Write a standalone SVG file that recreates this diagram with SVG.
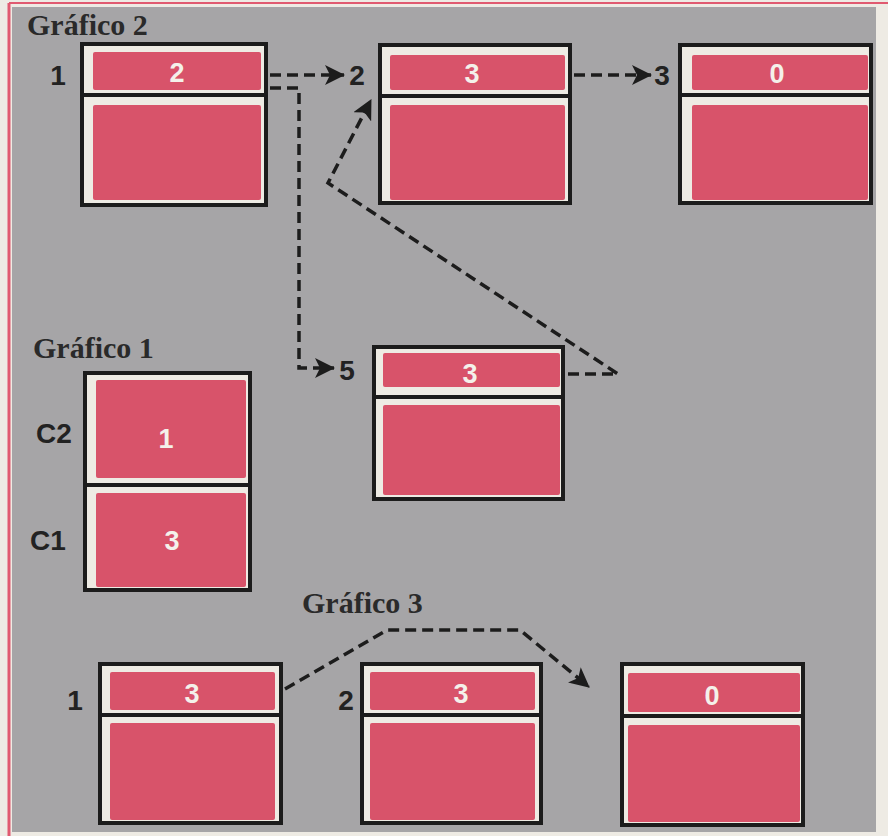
<svg xmlns="http://www.w3.org/2000/svg" width="888" height="836" viewBox="0 0 888 836">
<defs>
<style>
.frame{fill:#eeebe4;stroke:#1c1c1c;stroke-width:4}
.pk{fill:#d8536a}
.div{stroke:#1c1c1c;stroke-width:4}
.val{font-family:"Liberation Sans",Arial,sans-serif;font-weight:bold;font-size:27px;fill:#f4f1ea;text-anchor:middle}
.lbl{font-family:"Liberation Sans",Arial,sans-serif;font-weight:bold;font-size:28px;fill:#222;text-anchor:middle}
.ttl{font-family:"Liberation Serif","Times New Roman",serif;font-weight:bold;font-size:30px;fill:#2a2a2a}
.con{fill:none;stroke:#1c1c1c;stroke-width:3.5;stroke-dasharray:11 6}
</style>
<marker id="ah" viewBox="0 0 20 20" markerWidth="20" markerHeight="20" refX="19" refY="10" orient="auto" markerUnits="userSpaceOnUse">
<path d="M0,0 L20,10 L0,20 L5,10 z" fill="#1c1c1c"/>
</marker>
</defs>
<rect x="0" y="0" width="888" height="836" fill="#eeebe4"/>
<rect x="12" y="7" width="864" height="825" fill="#a6a5a7"/>
<line x1="9" y1="3" x2="9" y2="836" stroke="#e05a70" stroke-width="3"/>
<line x1="9" y1="3" x2="888" y2="3" stroke="#e05a70" stroke-width="2"/>

<text class="ttl" x="27" y="35">Gráfico 2</text>
<text class="ttl" x="33" y="358">Gráfico 1</text>
<text class="ttl" x="302" y="613">Gráfico 3</text>

<g id="g2-n1">
<rect class="frame" x="82" y="44" width="184" height="161"/>
<rect class="pk" x="93" y="52" width="168" height="38" rx="2"/>
<rect class="pk" x="93" y="105" width="168" height="95" rx="2"/>
<line class="div" x1="80" y1="95" x2="268" y2="95"/>
<text class="val" x="177" y="82">2</text>
<text class="lbl" x="58" y="85">1</text>
</g>
<g id="g2-n2">
<rect class="frame" x="380" y="45" width="190" height="158"/>
<rect class="pk" x="390" y="55" width="175" height="35" rx="2"/>
<rect class="pk" x="390" y="105" width="175" height="95" rx="2"/>
<line class="div" x1="378" y1="96" x2="572" y2="96"/>
<text class="val" x="472" y="83">3</text>
<text class="lbl" x="357" y="85">2</text>
</g>
<g id="g2-n3">
<rect class="frame" x="680" y="45" width="191" height="158"/>
<rect class="pk" x="692" y="55" width="176" height="35" rx="2"/>
<rect class="pk" x="692" y="105" width="176" height="95" rx="2"/>
<line class="div" x1="678" y1="95" x2="873" y2="95"/>
<text class="val" x="777" y="83">0</text>
<text class="lbl" x="662" y="85">3</text>
</g>
<g id="g2-n5">
<rect class="frame" x="374" y="347" width="189" height="152"/>
<rect class="pk" x="383" y="353" width="177" height="34" rx="2"/>
<rect class="pk" x="383" y="405" width="177" height="90" rx="2"/>
<line class="div" x1="372" y1="397" x2="565" y2="397"/>
<text class="val" x="470" y="383">3</text>
<text class="lbl" x="347" y="380">5</text>
</g>
<g id="g1">
<rect class="frame" x="85" y="373" width="165" height="217"/>
<rect class="pk" x="96" y="380" width="150" height="98" rx="2"/>
<rect class="pk" x="96" y="493" width="150" height="94" rx="2"/>
<line class="div" x1="83" y1="485" x2="252" y2="485"/>
<text class="val" x="166" y="448">1</text>
<text class="val" x="172" y="550">3</text>
<text class="lbl" x="54" y="443">C2</text>
<text class="lbl" x="48" y="550">C1</text>
</g>
<g id="g3-n1">
<rect class="frame" x="100" y="664" width="181" height="159"/>
<rect class="pk" x="110" y="672" width="165" height="38" rx="2"/>
<rect class="pk" x="110" y="723" width="165" height="97" rx="2"/>
<line class="div" x1="98" y1="715" x2="283" y2="715"/>
<text class="val" x="192" y="703">3</text>
<text class="lbl" x="75" y="710">1</text>
</g>
<g id="g3-n2">
<rect class="frame" x="362" y="664" width="179" height="159"/>
<rect class="pk" x="370" y="672" width="165" height="38" rx="2"/>
<rect class="pk" x="370" y="723" width="165" height="97" rx="2"/>
<line class="div" x1="360" y1="715" x2="543" y2="715"/>
<text class="val" x="461" y="703">3</text>
<text class="lbl" x="346" y="710">2</text>
</g>
<g id="g3-n3">
<rect class="frame" x="622" y="664" width="181" height="161"/>
<rect class="pk" x="628" y="673" width="172" height="39" rx="2"/>
<rect class="pk" x="628" y="725" width="172" height="97" rx="2"/>
<line class="div" x1="620" y1="716" x2="805" y2="716"/>
<text class="val" x="712" y="705">0</text>
</g>

<g id="connectors">
<path class="con" d="M270,75 H344" marker-end="url(#ah)"/>
<path class="con" d="M270,88 H299 V368 H334" marker-end="url(#ah)"/>
<path class="con" d="M574,75 H651" marker-end="url(#ah)"/>
<path class="con" d="M568,374 H618 L328,183 L371,100" marker-end="url(#ah)"/>
<path class="con" d="M285,689 L387,630 H520 L589,687" marker-end="url(#ah)"/>
</g>
</svg>
